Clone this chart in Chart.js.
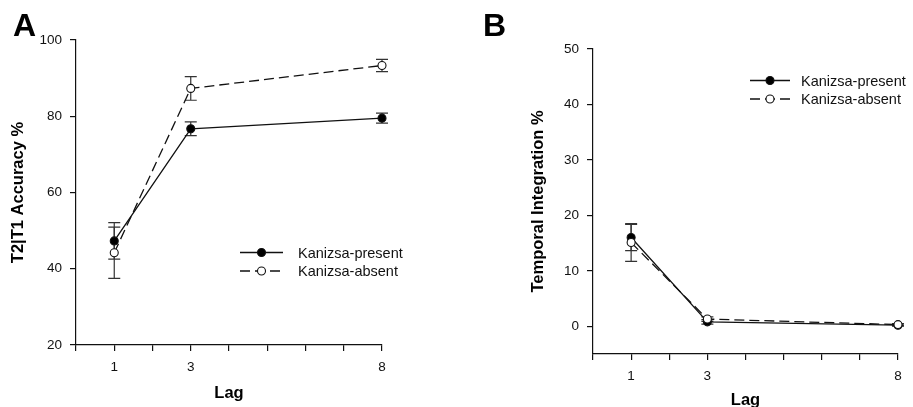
<!DOCTYPE html>
<html>
<head>
<meta charset="utf-8">
<title>Lag effects</title>
<script src="https://cdn.jsdelivr.net/npm/chart.js@4.4.1/dist/chart.umd.min.js"></script>
<style>
  html, body { margin: 0; padding: 0; background: #fff; overflow: hidden; }
  #wrap { position: relative; width: 913px; height: 407px; overflow: hidden; }
  canvas { position: absolute; top: 0; }
  #chartA { left: 0; }
  #chartB { left: 460px; }
</style>
</head>
<body>
<div id="wrap">
  <canvas id="chartA" width="460" height="407"></canvas>
  <canvas id="chartB" width="453" height="414"></canvas>
</div>
<script>
// lag positions and axis ticks
const lags = [1, 3, 8];
const lagTicks = [0, 1, 2, 3, 4, 5, 6, 7, 8];
const lagLabels = [1, 3, 8];

// A: T2|T1 accuracy
const accPresent = [47.3, 76.7, 79.5];
const accPresentErr = [4.8, 1.8, 1.3];
const accAbsent = [44.2, 87.3, 93.3];
const accAbsentErr = [6.7, 3.1, 1.6];
const accTicks = [20, 40, 60, 80, 100];

// B: temporal integration
const tiPresent = [16.0, 0.8, 0.2];
const tiPresentErr = [2.35, 0.4, 0.2];
const tiAbsent = [15.1, 1.3, 0.3];
const tiAbsentErr = [3.4, 0.4, 0.2];
const tiTicks = [0, 10, 20, 30, 40, 50];

const seriesNames = ["Kanizsa-present", "Kanizsa-absent"];

const FONT = '"Liberation Sans", Arial, sans-serif';
const INK = "#111";

// vertical error bars with caps, drawn under the markers
const errorBars = {
  id: "errorBars",
  beforeDatasetsDraw(chart) {
    const ctx = chart.ctx;
    const y = chart.scales.y;
    ctx.save();
    ctx.strokeStyle = "#333";
    ctx.lineWidth = 1.2;
    chart.data.datasets.forEach((ds, i) => {
      const meta = chart.getDatasetMeta(i);
      meta.data.forEach((pt, j) => {
        const v = ds.data[j].y, e = ds.errors[j];
        const y1 = y.getPixelForValue(v + e), y2 = y.getPixelForValue(v - e);
        const x = pt.x, w = 6;
        ctx.beginPath();
        ctx.moveTo(x, y1); ctx.lineTo(x, y2);
        ctx.moveTo(x - w, y1); ctx.lineTo(x + w, y1);
        ctx.moveTo(x - w, y2); ctx.lineTo(x + w, y2);
        ctx.stroke();
      });
    });
    ctx.restore();
  }
};

// line-marker-line legend plus the panel letter
const panelDecor = {
  id: "panelDecor",
  afterDraw(chart, args, opts) {
    const ctx = chart.ctx;
    ctx.save();
    ctx.fillStyle = "#000";
    ctx.font = "bold 32px " + FONT;
    ctx.textBaseline = "alphabetic";
    ctx.fillText(opts.letter, opts.letterX, opts.letterY);

    chart.data.datasets.forEach((ds, i) => {
      const ly = opts.legendY + i * opts.rowGap;
      const x0 = opts.legendX, x1 = x0 + opts.lineLen, xm = (x0 + x1) / 2;
      ctx.strokeStyle = INK;
      ctx.lineWidth = 1.3;
      ctx.setLineDash(ds.borderDash || []);
      ctx.beginPath();
      ctx.moveTo(x0, ly); ctx.lineTo(x1, ly);
      ctx.stroke();
      ctx.setLineDash([]);
      ctx.beginPath();
      ctx.arc(xm, ly, 4, 0, Math.PI * 2);
      ctx.fillStyle = ds.pointBackgroundColor;
      ctx.fill();
      ctx.lineWidth = 1.1;
      ctx.stroke();
      ctx.fillStyle = INK;
      ctx.font = "14.5px " + FONT;
      ctx.textBaseline = "middle";
      ctx.fillText(ds.label, x1 + opts.textGap, ly + 1);
    });
    ctx.restore();
  }
};

function series(label, values, errs, filled, dashed) {
  return {
    label: label,
    data: lags.map((l, i) => ({ x: l, y: values[i] })),
    errors: errs,
    borderColor: INK,
    borderWidth: 1.3,
    borderDash: dashed ? [10, 5] : [],
    pointRadius: 4,
    pointBorderWidth: 1.1,
    pointBorderColor: INK,
    pointBackgroundColor: filled ? "#000" : "#fff",
    tension: 0,
    clip: false,
    order: filled ? 1 : 0
  };
}

function axisStyle() {
  return {
    border: { display: true, color: INK, width: 1.2 },
    grid: { drawOnChartArea: false, drawTicks: true, tickLength: 6, color: INK, lineWidth: 1.2 }
  };
}

function makeChart(id, cfg) {
  return new Chart(document.getElementById(id), {
    type: "line",
    data: {
      datasets: [
        series(seriesNames[0], cfg.present, cfg.presentErr, true, false),
        series(seriesNames[1], cfg.absent, cfg.absentErr, false, true)
      ]
    },
    options: {
      responsive: false,
      animation: false,
      devicePixelRatio: 1,
      layout: { padding: cfg.padding },
      plugins: {
        legend: { display: false },
        tooltip: { enabled: false },
        panelDecor: cfg.decor
      },
      scales: {
        x: {
          type: "linear",
          min: 0, max: 8,
          ...axisStyle(),
          afterBuildTicks: (s) => { s.ticks = lagTicks.map(v => ({ value: v })); },
          afterFit: (s) => { s.height = cfg.xHeight; },
          ticks: {
            autoSkip: false, maxRotation: 0, padding: 8, color: INK,
            font: { family: FONT, size: 13.5 },
            callback: (v) => lagLabels.includes(v) ? String(v) : ""
          },
          title: {
            display: true, text: "Lag", color: "#000",
            font: { family: FONT, size: 16.5, weight: "bold" },
            padding: { top: 0, bottom: cfg.xTitlePad }
          }
        },
        y: {
          min: cfg.yMin, max: cfg.yMax,
          ...axisStyle(),
          afterBuildTicks: (s) => { s.ticks = cfg.yTicks.map(v => ({ value: v })); },
          afterFit: (s) => { s.width = cfg.yWidth; },
          ticks: { padding: 8, color: INK, font: { family: FONT, size: 13.5 } },
          title: {
            display: true, text: cfg.yTitle, color: "#000",
            font: { family: FONT, size: 16.5, weight: "bold" },
            padding: { top: cfg.yTitlePad, bottom: 0 }
          }
        }
      }
    },
    plugins: [errorBars, panelDecor]
  });
}

makeChart("chartA", {
  present: accPresent, presentErr: accPresentErr,
  absent: accAbsent, absentErr: accAbsentErr,
  yMin: 20, yMax: 100, yTicks: accTicks,
  yTitle: "T2|T1 Accuracy %",
  padding: { top: 40, right: 78, left: 0, bottom: 0 },
  xHeight: 62, yWidth: 76, xTitlePad: 4, yTitlePad: 9,
  decor: { letter: "A", letterX: 13, letterY: 36, legendX: 240, legendY: 252.5, rowGap: 18.5, lineLen: 43, textGap: 15 }
});

makeChart("chartB", {
  present: tiPresent, presentErr: tiPresentErr,
  absent: tiAbsent, absentErr: tiAbsentErr,
  yMin: -5, yMax: 50, yTicks: tiTicks,
  yTitle: "Temporal Integration %",
  padding: { top: 49, right: 15, left: 0, bottom: 0 },
  xHeight: 60, yWidth: 133, xTitlePad: 4, yTitlePad: 69,
  decor: { letter: "B", letterX: 23, letterY: 36, legendX: 290, legendY: 80.5, rowGap: 18.5, lineLen: 40, textGap: 11 }
});
</script>
</body>
</html>
